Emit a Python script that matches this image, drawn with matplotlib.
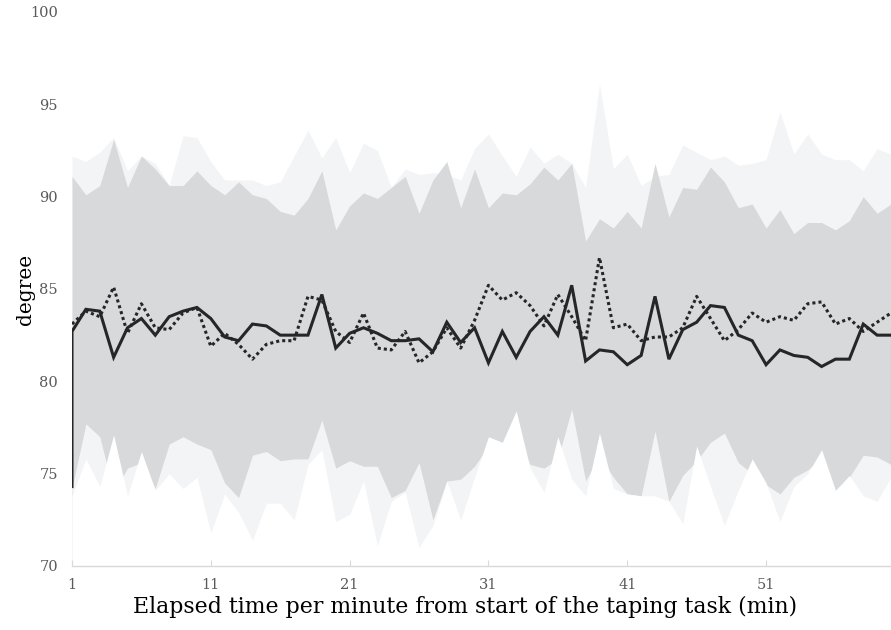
import matplotlib
matplotlib.use("Agg")
import matplotlib.pyplot as plt

minutes = list(range(1, 61))

# light band top (max)
band_max = [92.2, 91.9, 92.4, 93.2, 91.4, 92.2, 91.8, 90.6, 93.3, 93.2,
            91.9, 90.9, 90.9, 90.9, 90.6, 90.8, 92.2, 93.6, 92.1, 93.2,
            91.3, 92.9, 92.5, 90.5, 91.5, 91.2, 91.3, 91.2, 90.9, 92.6,
            93.4, 92.2, 91.1, 92.7, 91.8, 92.3, 91.8, 90.5, 96.1, 91.5,
            92.3, 90.6, 91.1, 91.2, 92.8, 92.4, 92.0, 92.2, 91.7, 91.8,
            92.0, 94.6, 92.3, 93.4, 92.3, 92.0, 92.0, 91.4, 92.6, 92.3]
# dark band top (mean + sd)
band_hi = [91.1, 90.1, 90.6, 93.1, 90.5, 92.2, 91.5, 90.6, 90.6, 91.4,
           90.6, 90.1, 90.8, 90.1, 89.9, 89.2, 89.0, 89.9, 91.4, 88.2,
           89.5, 90.2, 89.9, 90.5, 91.1, 89.1, 90.9, 91.9, 89.4, 91.5,
           89.4, 90.2, 90.1, 90.7, 91.6, 90.9, 91.8, 87.6, 88.8, 88.3,
           89.2, 88.3, 91.8, 88.9, 90.5, 90.4, 91.6, 90.8, 89.4, 89.6,
           88.3, 89.3, 88.0, 88.6, 88.6, 88.2, 88.7, 90.0, 89.1, 89.6]
# dark band bottom (mean - sd)
band_lo = [74.2, 77.7, 77.0, 74.0, 75.3, 75.6, 74.2, 76.6, 77.0, 76.6,
           76.3, 74.5, 73.7, 76.0, 76.2, 75.7, 75.8, 75.8, 77.9, 75.3,
           75.7, 75.4, 75.4, 73.7, 74.1, 75.6, 72.5, 74.6, 74.7, 75.4,
           76.5, 76.3, 77.0, 75.5, 75.3, 75.8, 78.5, 74.6, 76.0, 74.8,
           73.9, 73.8, 77.3, 73.5, 74.9, 75.7, 76.7, 77.2, 75.6, 75.0,
           74.4, 73.9, 74.8, 75.2, 75.9, 74.0, 74.8, 76.0, 75.9, 75.5]
# light band bottom (min)
band_min = [73.8, 75.8, 74.3, 77.1, 73.8, 76.2, 74.1, 75.0, 74.2, 74.8,
            71.8, 73.9, 72.9, 71.4, 73.4, 73.4, 72.5, 75.5, 76.3, 72.4,
            72.8, 74.6, 71.1, 73.5, 74.0, 71.0, 72.2, 74.6, 72.5, 74.8,
            77.0, 76.7, 78.4, 75.3, 74.0, 77.0, 74.7, 73.8, 77.2, 74.2,
            73.9, 73.8, 73.8, 73.5, 72.3, 76.5, 74.3, 72.2, 74.1, 75.8,
            74.5, 72.4, 74.3, 75.0, 76.3, 74.1, 74.9, 73.8, 73.5, 74.8]

solid_start = 74.3
solid = [82.7, 83.9, 83.8, 81.3, 82.9, 83.4, 82.5, 83.5, 83.8, 84.0,
         83.4, 82.4, 82.2, 83.1, 83.0, 82.5, 82.5, 82.5, 84.7, 81.8,
         82.6, 82.9, 82.6, 82.2, 82.2, 82.3, 81.6, 83.2, 82.1, 82.9,
         81.0, 82.7, 81.3, 82.7, 83.5, 82.5, 85.2, 81.1, 81.7, 81.6,
         80.9, 81.4, 84.6, 81.2, 82.8, 83.2, 84.1, 84.0, 82.5, 82.2,
         80.9, 81.7, 81.4, 81.3, 80.8, 81.2, 81.2, 83.1, 82.5, 82.5]
dotted = [83.1, 83.8, 83.5, 85.1, 82.6, 84.2, 82.9, 82.8, 83.7, 84.0,
          81.9, 82.6, 82.0, 81.2, 82.0, 82.2, 82.2, 84.6, 84.4, 82.7,
          82.1, 83.7, 81.8, 81.7, 82.7, 81.0, 81.6, 82.9, 81.8, 83.3,
          85.2, 84.4, 84.8, 84.1, 83.0, 84.7, 83.5, 82.2, 86.7, 82.9,
          83.1, 82.2, 82.4, 82.4, 82.9, 84.6, 83.4, 82.2, 82.8, 83.7,
          83.2, 83.5, 83.3, 84.2, 84.3, 83.1, 83.4, 82.7, 83.2, 83.7]

yticks = [70, 75, 80, 85, 90, 95, 100]
xticks = [1, 11, 21, 31, 41, 51]

light = "#f3f4f6"
dark = "#d8d9db"
ink = "#262626"

plt.rcParams["font.family"] = ["DejaVu Serif"]

fig = plt.figure(figsize=(8.91, 6.3), dpi=100)
ax = fig.add_axes([0.0808, 0.1016, 0.9192, 0.8794])

# overlapping areas, drawn back to front
ax.fill_between(minutes, 70, band_max, color=light, lw=0)
ax.fill_between(minutes, 70, band_hi, color=dark, lw=0)
ax.fill_between(minutes, 70, band_lo, color=light, lw=0)
ax.fill_between(minutes, 70, band_min, color="white", lw=0)

ax.plot([minutes[-1], minutes[-1]], [band_lo[-1], solid[-1]], color="#a0a0a0", lw=0.8)
ax.plot([minutes[0]] + minutes, [solid_start] + solid, color=ink, lw=2.2,
        solid_joinstyle="miter")
ax.plot(minutes, dotted, color=ink, lw=2.2, dashes=(1, 1), dash_capstyle="butt")

ax.set_xlim(1, 60)
ax.set_ylim(70, 100)
ax.set_yticks(yticks)
ax.set_xticks(xticks)
ax.tick_params(axis="y", length=0, pad=10, labelsize=10.5, labelcolor="#595959")
ax.tick_params(axis="x", direction="in", length=4, color="#d9d9d9", pad=9,
               labelsize=10.5, labelcolor="#595959")
for s in ["left", "right", "top"]:
    ax.spines[s].set_visible(False)
ax.spines["bottom"].set_color("#d9d9d9")
ax.spines["bottom"].set_linewidth(1.0)

ax.set_xlabel("Elapsed time per minute from start of the taping task (min)", fontsize=15.8)
ax.xaxis.set_label_coords(0.48, -0.074)
ax.xaxis.label.set_verticalalignment("center")
ax.set_ylabel("degree", fontsize=14.5)
ax.yaxis.set_label_coords(-0.045, 0.5)

fig.savefig("out.png", dpi=100)
